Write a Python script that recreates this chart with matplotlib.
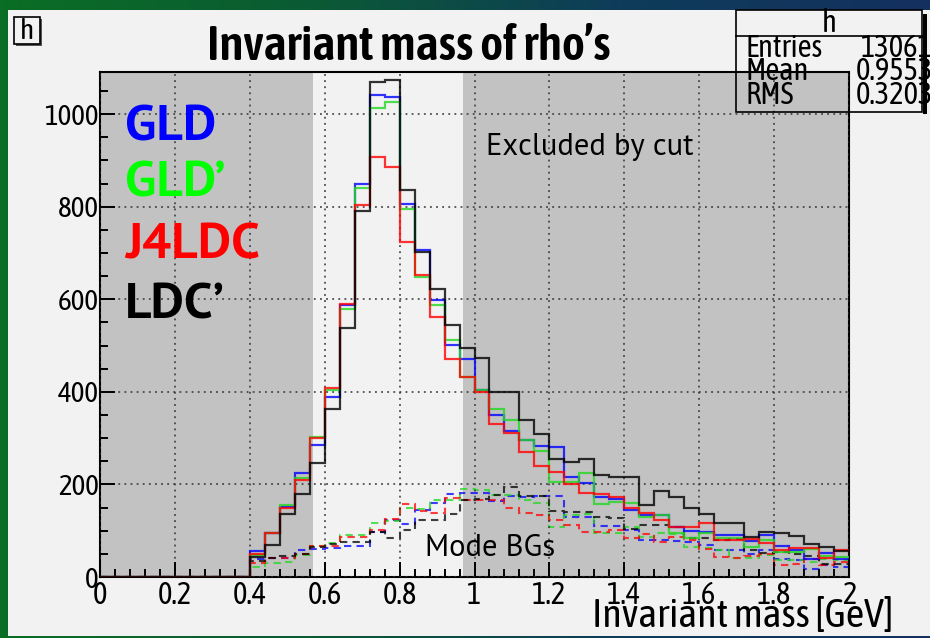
import numpy as np
import matplotlib
matplotlib.use('Agg')
import matplotlib.pyplot as plt
from matplotlib.patches import Rectangle
from matplotlib.colors import LinearSegmentedColormap
from matplotlib.ticker import MultipleLocator, FuncFormatter
from matplotlib import font_manager

W, H = 930, 638

# 50 bins of 40 MeV between 0 and 2 GeV
edges = np.linspace(0.0, 2.0, 51)

# rho candidates (solid)
gld = [0, 0, 0, 0, 0, 0, 0, 0, 0, 0,
       56, 96, 151, 224, 285, 389, 587, 849, 1041, 1036,
       806, 706, 598, 502, 471, 404, 351, 316, 297, 283,
       280, 216, 203, 173, 168, 144, 133, 133, 107, 99,
       97, 90, 90, 78, 90, 66, 58, 39, 52, 39]
gld2 = [0, 0, 0, 0, 0, 0, 0, 0, 0, 0,
        48, 95, 155, 213, 303, 404, 578, 840, 1013, 1027,
        796, 649, 588, 513, 432, 405, 362, 339, 296, 272,
        205, 205, 224, 158, 162, 160, 130, 133, 95, 85,
        94, 85, 85, 64, 80, 55, 54, 61, 45, 43]
j4ldc = [0, 0, 0, 0, 0, 0, 0, 0, 0, 0,
         50, 96, 148, 209, 301, 409, 589, 803, 908, 886,
         724, 652, 561, 472, 432, 399, 330, 312, 270, 240,
         227, 200, 181, 180, 173, 149, 138, 123, 108, 108,
         116, 81, 81, 82, 73, 58, 63, 63, 42, 58]
ldc2 = [0, 0, 0, 0, 0, 0, 0, 0, 0, 0,
        43, 70, 137, 180, 247, 362, 537, 791, 1070, 1074,
        836, 703, 623, 544, 495, 474, 399, 399, 339, 310,
        256, 249, 254, 220, 215, 215, 155, 185, 172, 148,
        137, 117, 117, 87, 97, 95, 88, 71, 64, 56]

# mode backgrounds (dashed)
gld_bg = [0, 0, 0, 0, 0, 0, 0, 0, 0, 0,
          38, 40, 42, 59, 61, 63, 68, 68, 97, 124,
          115, 144, 160, 180, 181, 181, 164, 176, 173, 174,
          174, 130, 130, 110, 110, 101, 79, 79, 78, 75,
          70, 59, 59, 50, 59, 39, 36, 18, 25, 22]
gld2_bg = [0, 0, 0, 0, 0, 0, 0, 0, 0, 0,
           22, 30, 32, 47, 68, 73, 90, 91, 117, 121,
           148, 146, 166, 167, 191, 189, 178, 178, 167, 159,
           107, 133, 137, 94, 94, 108, 86, 95, 93, 65,
           62, 59, 42, 40, 47, 36, 36, 33, 39, 36]
j4ldc_bg = [0, 0, 0, 0, 0, 0, 0, 0, 0, 0,
            30, 40, 42, 50, 66, 68, 86, 86, 102, 126,
            157, 143, 139, 170, 166, 167, 166, 150, 138, 133,
            124, 112, 98, 98, 101, 85, 92, 76, 87, 80,
            60, 43, 42, 45, 49, 25, 29, 39, 25, 33]
ldc2_bg = [0, 0, 0, 0, 0, 0, 0, 0, 0, 0,
           35, 42, 46, 50, 65, 72, 76, 76, 97, 85,
           102, 123, 124, 137, 166, 169, 178, 195, 176, 176,
           143, 141, 141, 130, 128, 104, 112, 112, 108, 85,
           84, 79, 83, 59, 52, 55, 50, 45, 29, 29]

signal = [gld, gld2, j4ldc, ldc2]
backgrounds = [gld_bg, gld2_bg, j4ldc_bg, ldc2_bg]
labels = ['GLD', 'GLD’', 'J4LDC', 'LDC’']
line_colors = ['#0000ff', '#22d822', '#ff0000', '#000000']
text_colors = ['#0000ff', '#00ff00', '#ff0000', '#000000']

cut_lo, cut_hi = 0.57, 0.97
stats = [('Entries', '13061'), ('Mean', '0.9553'), ('RMS', '0.3203')]

names = {f.name for f in font_manager.fontManager.ttflist}


def pick(*fams):
    for f in fams:
        if f in names:
            return f
    return 'DejaVu Sans'


COND = pick('Asap Condensed', 'PT Sans Narrow', 'Fira Sans Condensed', 'Liberation Sans Narrow', 'Liberation Sans')
HUMAN = pick('PT Sans', 'Fira Sans', 'Lato', 'Open Sans')

fig = plt.figure(figsize=(W / 100, H / 100), dpi=100)

# slide background + light canvas
bg = fig.add_axes([0, 0, 1, 1])
bg.set_xlim(0, W)
bg.set_ylim(H, 0)
bg.axis('off')
cmap = LinearSegmentedColormap.from_list('slide', ['#0a6e24', '#0b5a34', '#0e3c5a', '#143060'])
bg.imshow(np.linspace(0, 1, 256)[None, :], cmap=cmap, aspect='auto', extent=[0, W, H, 0])
bg.add_patch(Rectangle((8, 10), W - 8, 626, facecolor='#f2f2f2', edgecolor='none'))

# main frame
ax = fig.add_axes([100 / W, 1 - 577 / H, 749 / W, 505 / H])
ax.set_facecolor('#f2f2f2')
ax.axvspan(0, cut_lo, color='#c2c2c2', lw=0, zorder=0)
ax.axvspan(cut_hi, 2.0, color='#c2c2c2', lw=0, zorder=0)
ax.set_xlim(0, 2)
ax.set_ylim(0, 1091)

ax.grid(True, which='major', color='#333333', ls=(0, (1.2, 2.8)), lw=1.1, zorder=1)
ax.set_axisbelow(False)

for vals, c in zip(backgrounds, line_colors):
    ax.stairs(vals, edges, color=c, lw=1.5, ls=(0, (3.5, 2.5)), alpha=0.75, baseline=None, zorder=2)
for vals, c in zip(signal, line_colors):
    ax.stairs(vals, edges, color=c, lw=1.6, alpha=0.8, baseline=None, zorder=3)

ax.xaxis.set_major_locator(MultipleLocator(0.2))
ax.xaxis.set_minor_locator(MultipleLocator(0.04))
ax.yaxis.set_major_locator(MultipleLocator(200))
ax.yaxis.set_minor_locator(MultipleLocator(50))
ax.xaxis.set_major_formatter(FuncFormatter(lambda v, p: f'{v:g}'))
ax.yaxis.set_major_formatter(FuncFormatter(lambda v, p: f'{v:g}'))
ax.tick_params(which='both', direction='in', top=False, right=False, color='k', width=1.4)
ax.tick_params(which='major', length=11)
ax.tick_params(which='minor', length=6)
ax.tick_params(axis='x', pad=2)
ax.tick_params(axis='y', pad=1)
for lab in ax.get_xticklabels():
    lab.set_family(COND)
    lab.set_fontsize(22)
for lab in ax.get_yticklabels():
    lab.set_family(COND)
    lab.set_fontsize(21)
for s in ax.spines.values():
    s.set_linewidth(1.5)
    s.set_color('k')

# detector labels
ypos = [944, 821, 689, 559]
for lab, c, yv in zip(labels, text_colors, ypos):
    ax.text(0.067, yv, lab, color=c, fontsize=37, fontweight='bold', family=HUMAN,
            va='baseline', ha='left', zorder=5)

ax.text(1.031, 912, 'Excluded by cut', fontsize=22, family=HUMAN, va='baseline', ha='left', zorder=5)
ax.text(0.868, 45, 'Mode BGs', fontsize=22, family=HUMAN, va='baseline', ha='left', zorder=5)

# overlay: title, axis title, stats box, pad label
top = fig.add_axes([0, 0, 1, 1])
top.set_xlim(0, W)
top.set_ylim(H, 0)
top.axis('off')
top.patch.set_alpha(0)

top.text(409, 60, 'Invariant mass of rho’s', ha='center', va='baseline',
         fontsize=35.5, fontweight='semibold', family=COND)
top.text(893, 627, 'Invariant mass [GeV]', ha='right', va='baseline', fontsize=29, family=COND)

# pad name box
top.add_patch(Rectangle((16, 19), 26, 27, facecolor='#555555', edgecolor='none'))
top.add_patch(Rectangle((14, 17), 26, 27, facecolor='#f2f2f2', edgecolor='k', lw=1.2))
top.text(27, 39, 'h', ha='center', va='baseline', fontsize=21, family=COND)

# stats box
top.add_patch(Rectangle((736, 10), 186, 102, facecolor='none', edgecolor='k', lw=1.2))
top.plot([736, 922], [36, 36], color='k', lw=1.2)
top.text(829, 32, 'h', ha='center', va='baseline', fontsize=22, family=COND)
for i, (k, v) in enumerate(stats):
    yb = 57 + i * 23.5
    top.text(745, yb, k, ha='left', va='baseline', fontsize=22, family=COND)
    top.text(933, yb, v, ha='right', va='baseline', fontsize=22, family=COND)
top.add_patch(Rectangle((923, 14), 4, 100, facecolor='k', edgecolor='none'))

fig.savefig('out.png', dpi=100)
